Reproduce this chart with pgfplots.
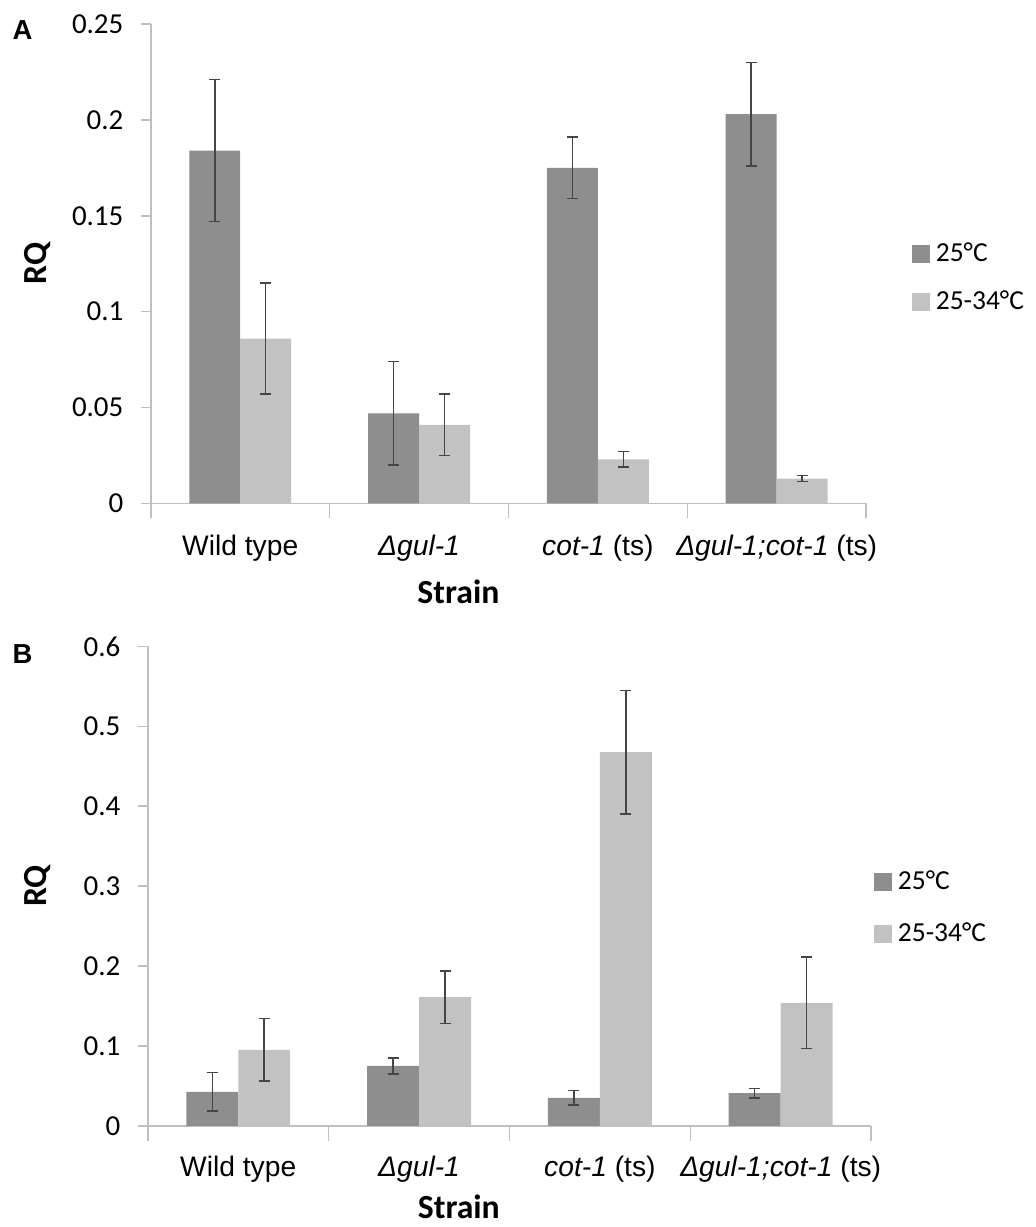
\documentclass[border=0pt]{standalone}
\usepackage{pgfplots}
\pgfplotsset{compat=1.18}
\usepackage{fontspec}
\setmainfont{Carlito}
\newfontfamily\arial{Liberation Sans}
\definecolor{darkbar}{HTML}{8E8E8E}
\definecolor{lightbar}{HTML}{C2C2C2}
\definecolor{axgray}{HTML}{BFBFBF}
\definecolor{errc}{HTML}{454545}
\pgfplotsset{
 rqstyle/.style={
  scale only axis,
  ybar=0pt,
  axis x line*=bottom, axis y line*=left,
  axis line style={-, axgray, line width=0.6pt},
  xmin=-0.5, xmax=3.5, ymin=0,
  xtick={0,1,2,3},
  xticklabels={{Wild type},{\itshape Δgul-1},{{\itshape cot-1} (ts)},{{\itshape Δgul-1;cot-1} (ts)}},
  xticklabel style={font=\arial\fontsize{11.3}{13}\selectfont, anchor=base, inner sep=0pt},
  major x tick style={draw=none},
  minor xtick={-0.5,0.5,1.5,2.5,3.5},
  minor x tick style={axgray, line width=0.6pt},
  minor tick length=6pt,
  major tick length=4pt,
  tick align=outside,
  ytick style={axgray, line width=0.6pt},
  yticklabel style={font=\fontsize{11.6}{13}\selectfont, anchor=east, inner sep=0pt},
  ylabel={\bfseries RQ},
  xlabel={\bfseries Strain},
  every axis y label/.style={at={(axis description cs:0,0.5)}, rotate=90, anchor=center, font=\fontsize{13.5}{16}\selectfont},
  every axis x label/.style={at={(axis description cs:0.43,0)}, anchor=center, font=\fontsize{13.5}{16}\selectfont},
  error bars/y dir=both, error bars/y explicit,
  error bars/error mark=|,
  error bars/error bar style={errc, line width=0.6pt},
  error bars/error mark options={errc, rotate=0, mark size=2.2pt, line width=0.6pt},
  legend image code/.code={\path[##1, draw=none] (0pt,-3.6pt) rectangle (7.2pt,3.6pt);},
  legend cell align=left,
  legend style={draw=none, fill=none, inner sep=0pt, outer sep=0pt, anchor=west,
    font=\fontsize{11}{13}\selectfont,
    nodes={inner sep=0pt, text height=8pt, text depth=2pt},
    /tikz/every odd column/.append style={column sep=2.4pt}},
 }
}
\begin{document}
\begin{tikzpicture}
\path (0,0) rectangle (414.8pt,-490.8pt);
\node[font=\arial\bfseries\fontsize{11}{13}\selectfont] at (9pt,-12pt) {A};
\node[font=\arial\bfseries\fontsize{11}{13}\selectfont] at (9pt,-262pt) {B};
\begin{axis}[rqstyle,
  at={(60.4pt,-201.6pt)}, anchor=south west,
  width=286.4pt, height=192pt,
  ymax=0.25,
  ytick={0,0.05,0.1,0.15,0.2,0.25},
  yticklabels={0,0.05,0.1,0.15,0.2,0.25},
  bar width=20.4pt,
  xticklabel style={yshift=-16.8pt},
  yticklabel style={xshift=-6.8pt},
  ylabel style={yshift=45.2pt},
  xlabel style={yshift=-35.2pt},
  legend style={at={(1.064,0.47)}, row sep=9.2pt},
]
\addplot[fill=darkbar, draw=none] coordinates {(0,0.184) +- (0,0.037) (1,0.047) +- (0,0.027) (2,0.175) +- (0,0.016) (3,0.203) +- (0,0.027)};
\addplot[fill=lightbar, draw=none] coordinates {(0,0.086) +- (0,0.029) (1,0.041) +- (0,0.016) (2,0.023) +- (0,0.004) (3,0.013) +- (0,0.0015)};
\legend{25°C, 25-34°C}
\end{axis}
\begin{axis}[rqstyle,
  at={(59.2pt,-450.8pt)}, anchor=south west,
  width=289.6pt, height=192pt,
  ymax=0.6,
  ytick={0,0.1,0.2,0.3,0.4,0.5,0.6},
  yticklabels={0,0.1,0.2,0.3,0.4,0.5,0.6},
  bar width=20.8pt,
  xticklabel style={yshift=-16.4pt},
  yticklabel style={xshift=-6.8pt},
  ylabel style={yshift=44pt},
  xlabel style={yshift=-32.4pt},
  legend style={at={(1.004,0.454)}, row sep=10.8pt},
]
\addplot[fill=darkbar, draw=none] coordinates {(0,0.0425) +- (0,0.024) (1,0.075) +- (0,0.010) (2,0.035) +- (0,0.009) (3,0.041) +- (0,0.006)};
\addplot[fill=lightbar, draw=none] coordinates {(0,0.095) +- (0,0.039) (1,0.161) +- (0,0.033) (2,0.4675) +- (0,0.077) (3,0.154) +- (0,0.057)};
\legend{25°C, 25-34°C}
\end{axis}
\end{tikzpicture}
\end{document}
